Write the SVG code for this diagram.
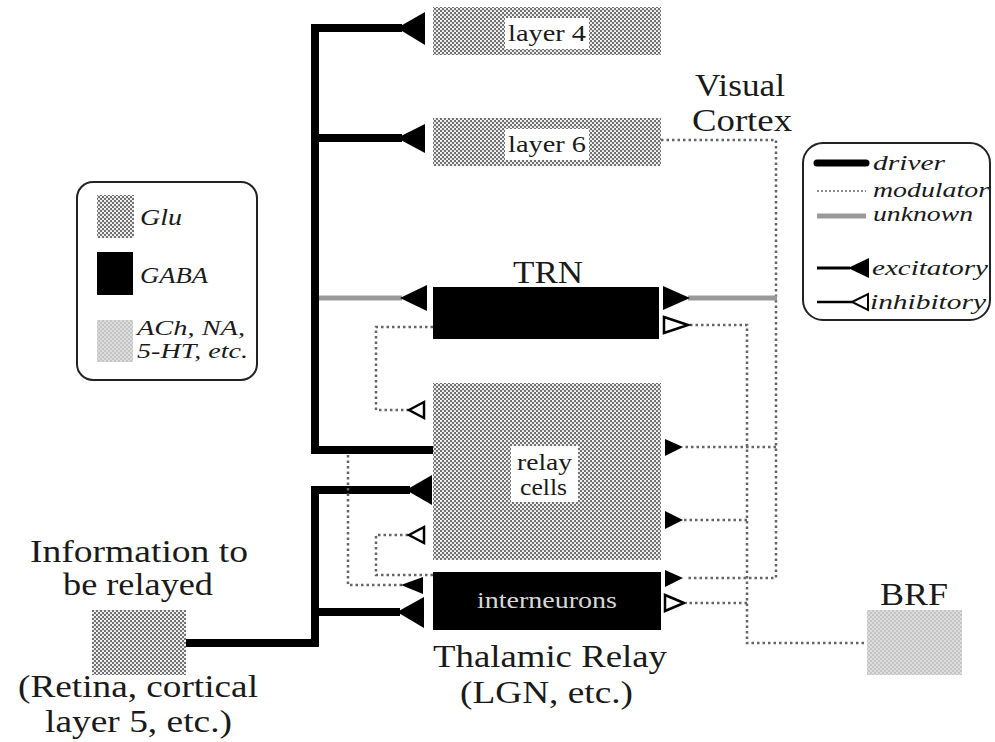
<svg xmlns="http://www.w3.org/2000/svg" width="995" height="742" viewBox="0 0 995 742">
<defs>
<pattern id="glu" width="4" height="4" patternUnits="userSpaceOnUse">
<rect width="4" height="4" fill="#707070"/>
<circle cx="1" cy="1" r="1.1" fill="#ffffff"/>
<circle cx="3" cy="3" r="1.1" fill="#ffffff"/>
</pattern>
<pattern id="ach" width="4" height="4" patternUnits="userSpaceOnUse">
<rect width="4" height="4" fill="#c4c4c4"/>
<circle cx="1" cy="1" r="1" fill="#e6e6e6"/>
<circle cx="3" cy="3" r="1" fill="#e6e6e6"/>
</pattern>
</defs>
<style>
text{font-family:'Liberation Serif','DejaVu Serif',serif;fill:#1a1a1a}
.big{font-size:31px}
.mid{font-size:24px}
.it{font-style:italic;font-size:22px}
.drv{fill:none;stroke:#000;stroke-width:8;stroke-linejoin:miter}
.mod{fill:none;stroke:#666;stroke-width:2.5;stroke-dasharray:2.5 3}
.unk{fill:none;stroke:#999;stroke-width:5}
.ex{fill:#000}
.inh{fill:#fff;stroke:#000;stroke-width:2.5}
.lbl{fill:#fff}
</style>
<rect width="995" height="742" fill="#fff"/>

<g id="connectors">
<path class="drv" d="M433,450 H315 V28 H402"/>
<path class="drv" d="M315,138 H402"/>
<path class="unk" d="M319,298 H402"/>
<polygon class="ex" points="397,28 425,12 425,45"/>
<polygon class="ex" points="397,138 425,124 425,153"/>
<polygon class="ex" points="400,298 427,285 427,311"/>
<path class="drv" d="M186,643 H315 V490 H410"/>
<path class="drv" d="M315,612 H400"/>
<polygon class="ex" points="406,490 432,475 432,505"/>
<polygon class="ex" points="397,612 424,597 424,628"/>
<path class="mod" d="M661,140 H776 V578 H686"/>
<path class="unk" d="M688,298 H777"/>
<polygon class="ex" points="690,298 663,286 663,310"/>
<path class="mod" d="M776,447 H684"/>
<polygon class="ex" points="683,447 665,439 665,456"/>
<polygon class="ex" points="683,578 665,570 665,587"/>
<path class="mod" d="M433,327 H376 V410 H410"/>
<polygon class="inh" points="409,410 424,402 424,418"/>
<path class="mod" d="M690,325 H747 V643 H867"/>
<polygon class="inh" points="688,325 664,317 664,333"/>
<path class="mod" d="M747,520 H684"/>
<polygon class="ex" points="683,520 665,511 665,529"/>
<path class="mod" d="M747,603 H686"/>
<polygon class="inh" points="684,603 665,595 665,611"/>
<path class="mod" d="M348,455 V585 H402"/>
<polygon class="ex" points="401,585 423,577 423,594"/>
<path class="mod" d="M433,575 H376 V535 H410"/>
<polygon class="inh" points="409,535 424,527 424,543"/>
</g>

<g id="layer4">
<rect x="433" y="7" width="228" height="48" fill="url(#glu)"/>
<rect class="lbl" x="505" y="18" width="84" height="31"/>
<text class="mid" x="508" y="41" textLength="78" lengthAdjust="spacingAndGlyphs">layer 4</text>
</g>
<g id="layer6">
<rect x="433" y="118" width="228" height="48" fill="url(#glu)"/>
<rect class="lbl" x="505" y="129" width="84" height="31"/>
<text class="mid" x="508" y="152" textLength="78" lengthAdjust="spacingAndGlyphs">layer 6</text>
</g>
<g id="visual-cortex">
<text class="big" x="695" y="96" textLength="90" lengthAdjust="spacingAndGlyphs">Visual</text>
<text class="big" x="692" y="131" textLength="100" lengthAdjust="spacingAndGlyphs">Cortex</text>
</g>
<g id="trn">
<text class="big" x="513" y="283" textLength="70" lengthAdjust="spacingAndGlyphs">TRN</text>
<rect x="433" y="287" width="226" height="52" fill="#000"/>
</g>
<g id="relay-cells">
<rect x="433" y="383" width="228" height="177" fill="url(#glu)"/>
<rect class="lbl" x="511" y="446" width="67" height="56"/>
<text class="mid" x="517" y="470" textLength="55" lengthAdjust="spacingAndGlyphs">relay</text>
<text class="mid" x="520" y="495" textLength="47" lengthAdjust="spacingAndGlyphs">cells</text>
</g>
<g id="interneurons">
<rect x="433" y="572" width="228" height="58" fill="#000"/>
<text x="477" y="608" font-size="24" textLength="140" lengthAdjust="spacingAndGlyphs" style="fill:#d8d8d8">interneurons</text>
</g>
<g id="thalamic-relay-label">
<text class="big" x="433" y="667" textLength="234" lengthAdjust="spacingAndGlyphs">Thalamic Relay</text>
<text class="big" x="460" y="703" textLength="173" lengthAdjust="spacingAndGlyphs">(LGN, etc.)</text>
</g>
<g id="info">
<text class="big" x="30" y="562" textLength="218" lengthAdjust="spacingAndGlyphs">Information to</text>
<text class="big" x="63" y="595" textLength="150" lengthAdjust="spacingAndGlyphs">be relayed</text>
<rect x="92" y="610" width="94" height="65" fill="url(#glu)"/>
<text class="big" x="18" y="697" textLength="240" lengthAdjust="spacingAndGlyphs">(Retina, cortical</text>
<text class="big" x="45" y="732" textLength="187" lengthAdjust="spacingAndGlyphs">layer 5, etc.)</text>
</g>
<g id="brf">
<text class="big" x="880" y="605" textLength="68" lengthAdjust="spacingAndGlyphs">BRF</text>
<rect x="867" y="610" width="95" height="65" fill="url(#ach)"/>
</g>
<g id="legend-transmitters">
<rect x="77" y="182" width="180" height="198" rx="16" fill="#fff" stroke="#222" stroke-width="2"/>
<rect x="97" y="195" width="37" height="43" fill="url(#glu)"/>
<text class="it" x="140" y="225" font-size="24" style="font-size:24px" textLength="42" lengthAdjust="spacingAndGlyphs">Glu</text>
<rect x="97" y="252" width="36" height="43" fill="#000"/>
<text class="it" x="140" y="283" style="font-size:24px" textLength="68" lengthAdjust="spacingAndGlyphs">GABA</text>
<rect x="97" y="320" width="36" height="42" fill="url(#ach)"/>
<text class="it" x="137" y="335" style="font-size:21px" textLength="108" lengthAdjust="spacingAndGlyphs">ACh, NA,</text>
<text class="it" x="137" y="358" style="font-size:21px" textLength="111" lengthAdjust="spacingAndGlyphs">5-HT, etc.</text>
</g>
<g id="legend-lines">
<rect x="803" y="143" width="187" height="177" rx="20" fill="#fff" stroke="#222" stroke-width="2"/>
<line x1="817" y1="163" x2="866" y2="163" stroke="#000" stroke-width="7" stroke-linecap="round"/>
<text class="it" x="873" y="170" textLength="72" lengthAdjust="spacingAndGlyphs">driver</text>
<line x1="817" y1="191" x2="866" y2="191" stroke="#666" stroke-width="1.5" stroke-dasharray="2 2"/>
<text class="it" x="873" y="197" textLength="116" lengthAdjust="spacingAndGlyphs">modulator</text>
<line x1="817" y1="216" x2="866" y2="216" stroke="#999" stroke-width="5"/>
<text class="it" x="873" y="221" textLength="100" lengthAdjust="spacingAndGlyphs">unknown</text>
<line x1="817" y1="268" x2="850" y2="268" stroke="#000" stroke-width="3"/>
<polygon class="ex" points="848,268 869,258 869,278"/>
<text class="it" x="872" y="275" textLength="116" lengthAdjust="spacingAndGlyphs">excitatory</text>
<line x1="817" y1="302" x2="852" y2="302" stroke="#000" stroke-width="2.5"/>
<polygon class="inh" points="852,302 868,294 868,310" style="stroke-width:2"/>
<text class="it" x="870" y="309" textLength="116" lengthAdjust="spacingAndGlyphs">inhibitory</text>
</g>
</svg>
